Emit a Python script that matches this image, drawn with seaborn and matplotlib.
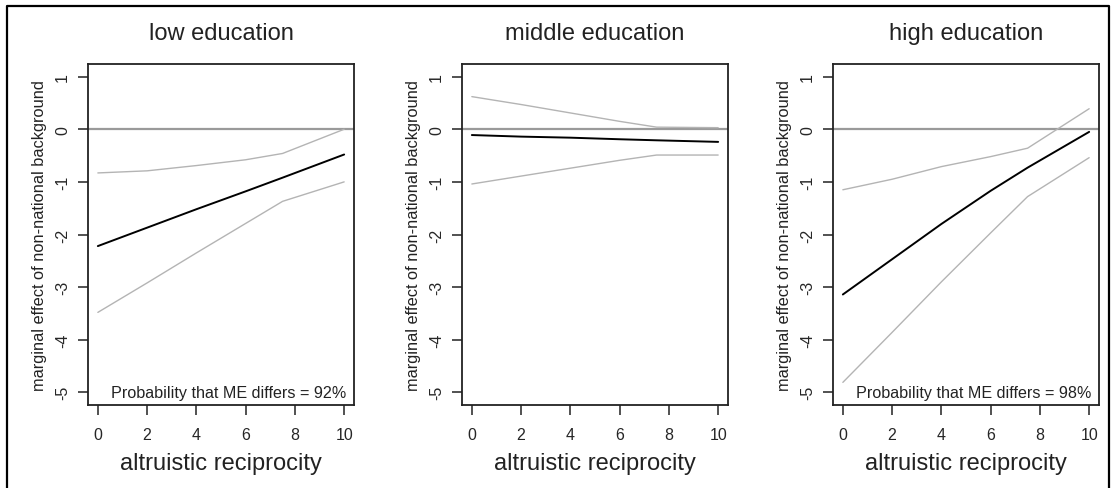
import matplotlib
matplotlib.use("Agg")
import matplotlib.pyplot as plt
from matplotlib.lines import Line2D
import pandas as pd
import seaborn as sns

# --- Data ---
PANELS = ["low education", "middle education", "high education"]
X_GRID = [0, 2, 4, 6, 7.5, 10]

low_mean = [-2.22, -1.87, -1.52, -1.18, -0.92, -0.48]
low_upper = [-0.83, -0.79, -0.69, -0.58, -0.46, 0.0]
low_lower = [-3.48, -2.92, -2.35, -1.79, -1.37, -1.0]

mid_mean = [-0.11, -0.14, -0.16, -0.19, -0.21, -0.24]
mid_upper = [0.62, 0.47, 0.31, 0.15, 0.04, 0.03]
mid_lower = [-1.04, -0.89, -0.74, -0.59, -0.49, -0.49]

high_mean = [-3.14, -2.47, -1.80, -1.17, -0.73, -0.05]
high_upper = [-1.15, -0.95, -0.71, -0.52, -0.36, 0.39]
high_lower = [-4.81, -3.86, -2.90, -1.97, -1.28, -0.54]

PROB_TEXT = ["Probability that ME differs = 92%", None,
             "Probability that ME differs = 98%"]

X_TICKS = [0, 2, 4, 6, 8, 10]
Y_TICKS = [1, 0, -1, -2, -3, -4, -5]

series = {
    "low education": (low_mean, low_upper, low_lower),
    "middle education": (mid_mean, mid_upper, mid_lower),
    "high education": (high_mean, high_upper, high_lower),
}

rows = []
for panel, (m, u, l) in series.items():
    for name, vals in (("mean", m), ("upper", u), ("lower", l)):
        for x, y in zip(X_GRID, vals):
            rows.append({"panel": panel, "series": name, "x": x, "y": y})
df = pd.DataFrame(rows)

# --- Figure ---
sns.set_style("ticks")
plt.rcParams["font.family"] = ["Liberation Sans", "DejaVu Sans"]

W, H = 1112, 489
fig = plt.figure(figsize=(W / 100, H / 100), dpi=100)

lefts = [88, 462, 833]
ax_w, ax_top, ax_bot = 266, 65, 406

palette = {"mean": "black", "upper": "#b4b4b4", "lower": "#b4b4b4"}
sizes = {"mean": 1.4, "upper": 1.0, "lower": 1.0}

for i, panel in enumerate(PANELS):
    ax = fig.add_axes([lefts[i] / W, 1 - ax_bot / H, ax_w / W, (ax_bot - ax_top) / H])
    ax.axhline(0, color="#9a9a9a", lw=1.6, zorder=1)
    sub = df[df["panel"] == panel]
    sns.lineplot(data=sub, x="x", y="y", hue="series", size="series",
                 palette=palette, sizes=sizes, estimator=None, sort=False,
                 legend=False, ax=ax, zorder=2)
    ax.set_xlim(-0.4, 10.4)
    ax.set_ylim(-5.24, 1.24)
    ax.set_xticks(X_TICKS)
    ax.set_yticks(Y_TICKS)
    ax.set_yticklabels([str(t) for t in Y_TICKS], rotation=90, va="center")
    ax.tick_params(axis="both", direction="out", length=7, width=1.1,
                   labelsize=11.5, color="#222222")
    ax.tick_params(axis="x", pad=9)
    ax.tick_params(axis="y", pad=6)
    for sp in ax.spines.values():
        sp.set_visible(True)
        sp.set_linewidth(1.3)
        sp.set_color("#222222")
    ax.set_title(panel, fontsize=17, pad=18, color="#222222")
    ax.set_xlabel("altruistic reciprocity", fontsize=17, labelpad=7, color="#222222")
    ax.set_ylabel("marginal effect of non-national background", fontsize=11.8,
                  labelpad=6, color="#222222")
    if PROB_TEXT[i]:
        ax.text(10.1, -5.0, PROB_TEXT[i], ha="right", va="center",
                fontsize=11.6, color="#222222")

# outer frame (open at the bottom, as in the cropped reference)
fx = [7 / W, 7 / W, 1109 / W, 1109 / W]
fy = [0, 1 - 7 / H, 1 - 7 / H, 0]
fig.add_artist(Line2D(fx, fy, transform=fig.transFigure, color="black", lw=1.6))

fig.savefig("out.png", dpi=100)
